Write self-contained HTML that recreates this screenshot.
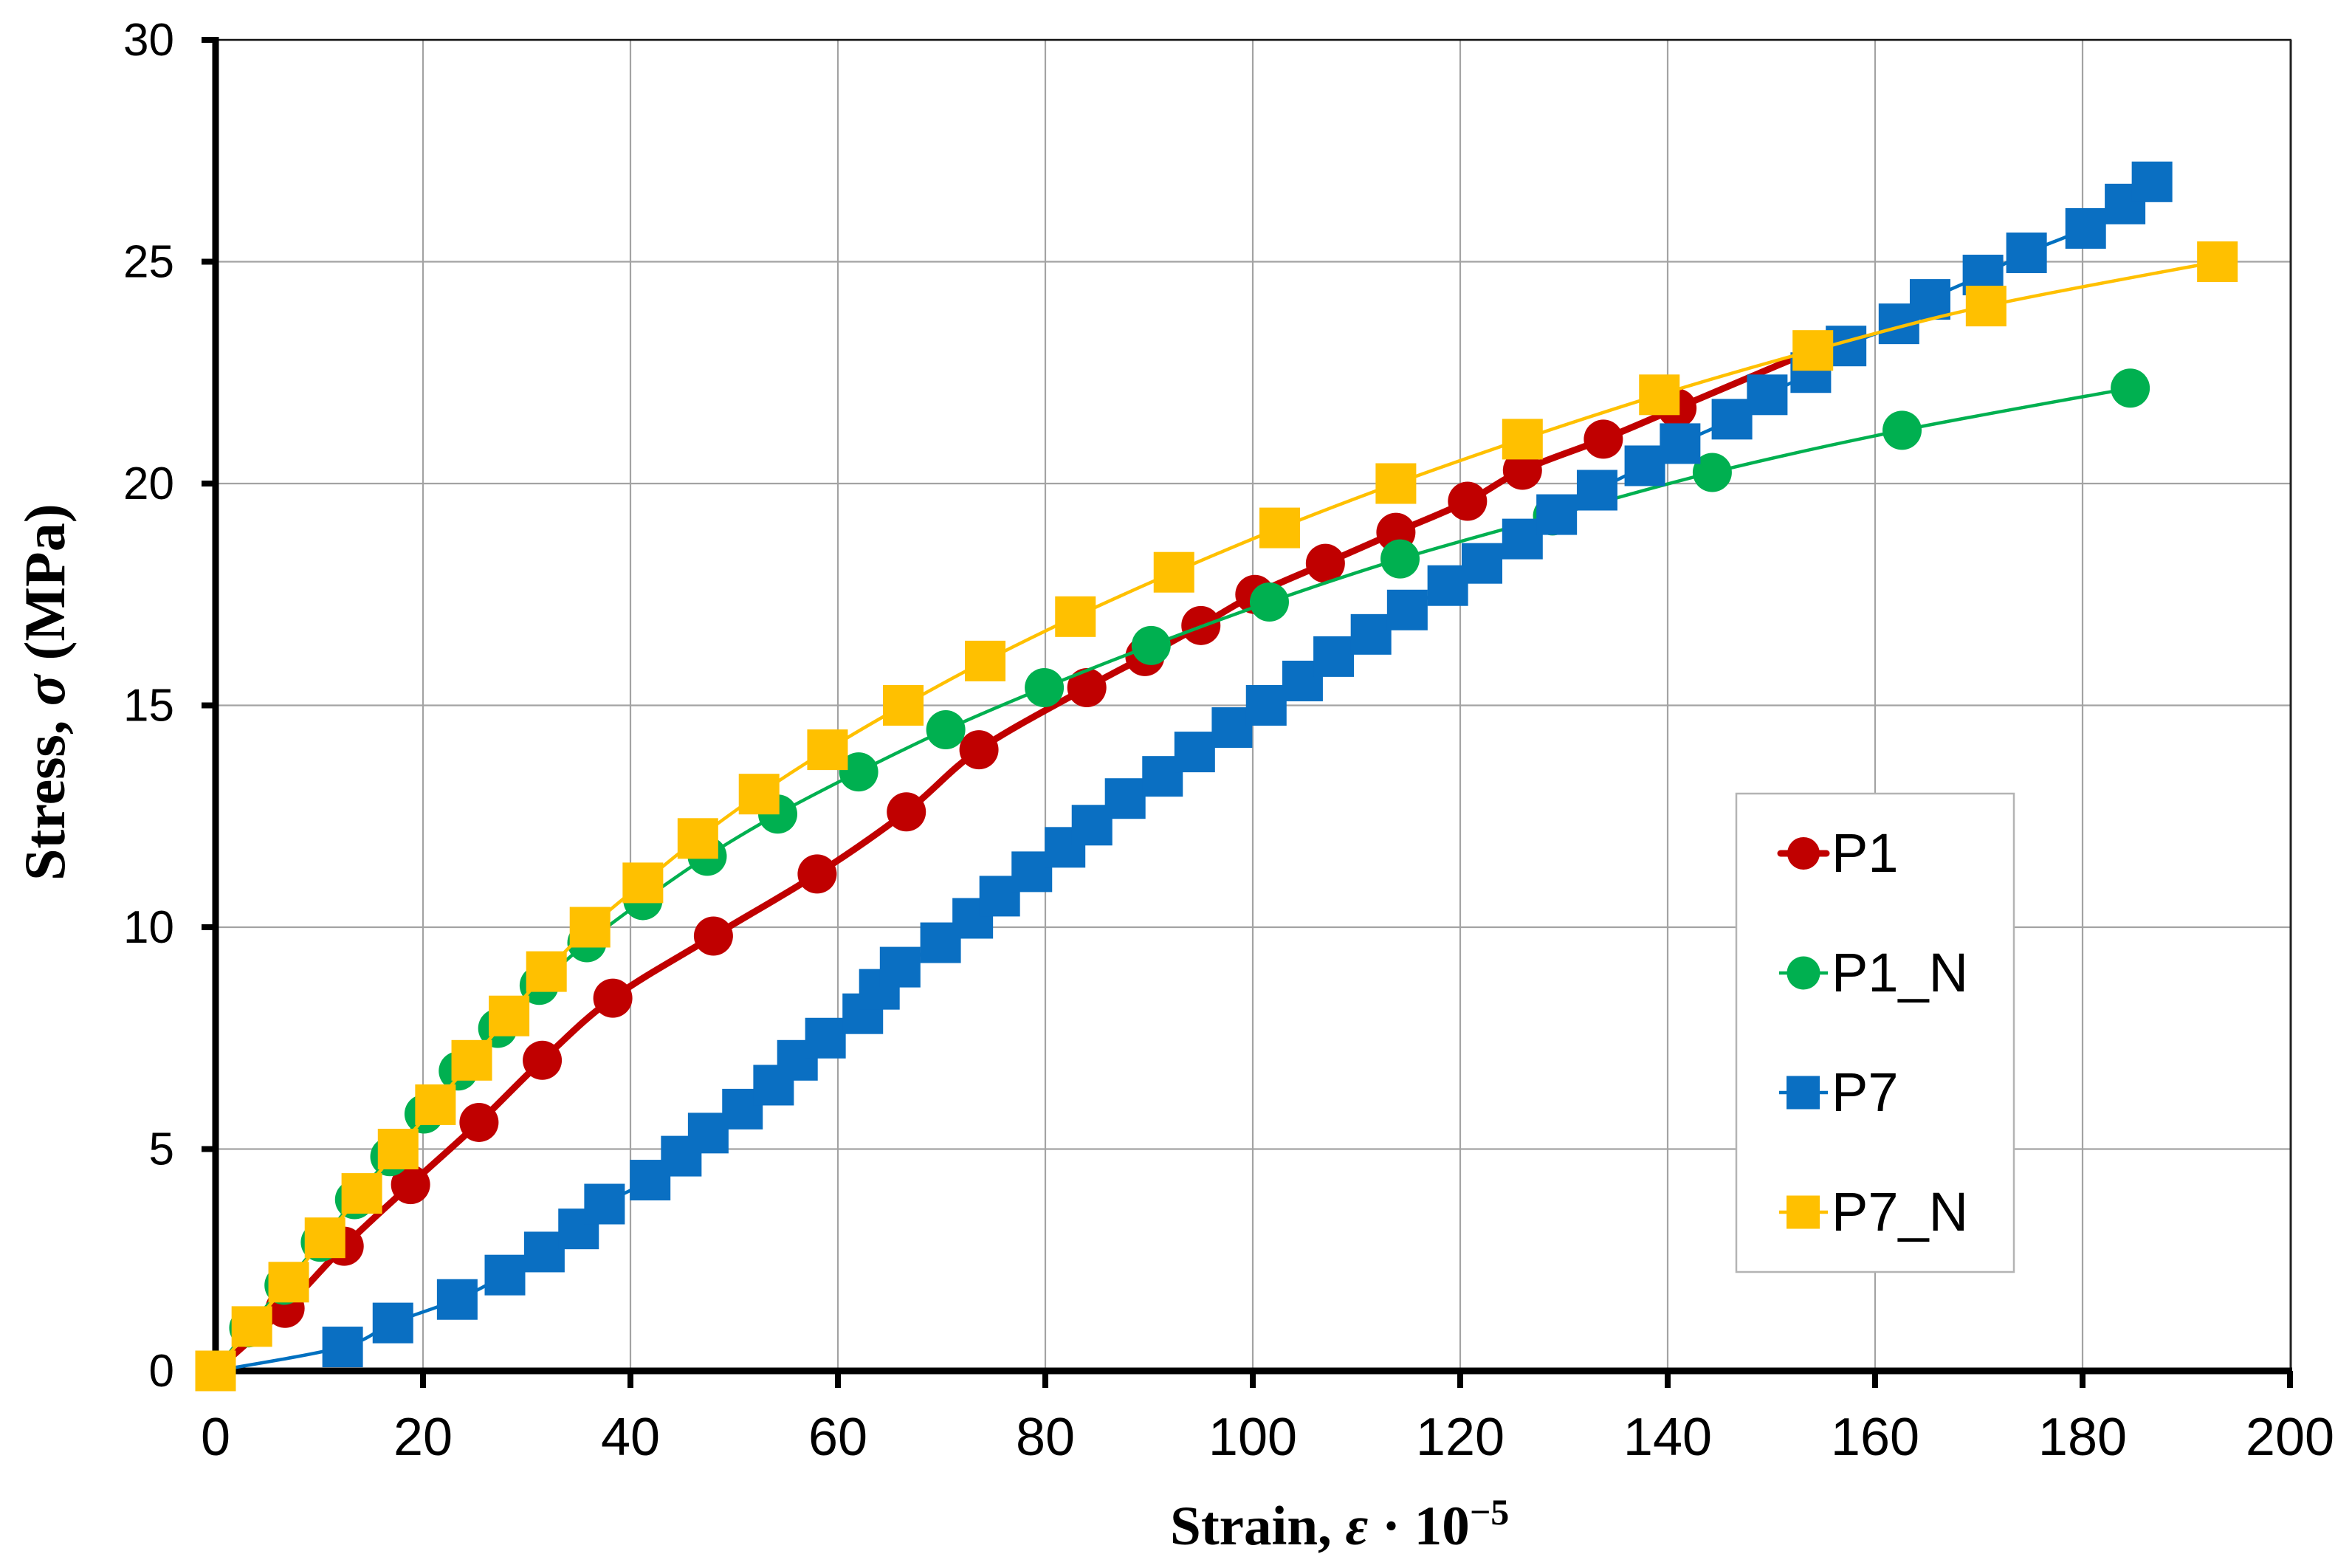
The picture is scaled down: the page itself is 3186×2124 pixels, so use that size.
<!DOCTYPE html>
<html lang="en">
<head>
<meta charset="utf-8">
<title>Stress-strain chart</title>
<style>
html,body{margin:0;padding:0;background:#fff;}
body{width:3186px;height:2124px;overflow:hidden;}
svg{display:block;}
text{fill:#000;}
.sans{font-family:"Liberation Sans",sans-serif;}
.serif{font-family:"Liberation Serif",serif;font-weight:bold;}
</style>
</head>
<body>
<svg id="chart" xmlns="http://www.w3.org/2000/svg" width="3186" height="2124" viewBox="0 0 3186 2124">
  <rect x="0" y="0" width="3186" height="2124" fill="#ffffff"/>
  <g id="grid"></g>
  <g id="frame"></g>
  <g id="legend">
    <rect x="2352" y="1075" width="376" height="648" fill="#ffffff" stroke="#b4b4b4" stroke-width="2.5"/>
    <g>
      <line x1="2412" y1="1156" x2="2474" y2="1156" stroke="#C00000" stroke-width="9" stroke-linecap="round"/>
      <circle cx="2443" cy="1156" r="22" fill="#C00000"/>
      <text class="sans" x="2481" y="1181" font-size="74">P1</text>
    </g>
    <g>
      <line x1="2410" y1="1318" x2="2476" y2="1318" stroke="#00B050" stroke-width="4.5"/>
      <circle cx="2443" cy="1318" r="22.5" fill="#00B050"/>
      <text class="sans" x="2481" y="1343" font-size="74">P1_N</text>
    </g>
    <g>
      <line x1="2410" y1="1480" x2="2476" y2="1480" stroke="#0070C0" stroke-width="4.5"/>
      <rect x="2420" y="1457.5" width="45" height="45" fill="#0A6FC2"/>
      <text class="sans" x="2481" y="1505" font-size="74">P7</text>
    </g>
    <g>
      <line x1="2410" y1="1642" x2="2476" y2="1642" stroke="#FFC000" stroke-width="4.5"/>
      <rect x="2420" y="1619.5" width="45" height="45" fill="#FFC000"/>
      <text class="sans" x="2481" y="1667" font-size="74">P7_N</text>
    </g>
  </g>
  <g id="series"></g>
  <g id="ticks"></g>
  <text class="serif" x="1585" y="2092" font-size="75">Strain, <tspan font-style="italic">ε</tspan> · 10<tspan font-size="50" dy="-27">−5</tspan></text>
  <text class="serif" transform="translate(87,1193) rotate(-90)" x="0" y="0" font-size="78">Stress, <tspan font-style="italic">σ</tspan> (MPa)</text>
</svg>
<script>
var xTicks = [0, 20, 40, 60, 80, 100, 120, 140, 160, 180, 200];
var yTicks = [0, 5, 10, 15, 20, 25, 30];

var p1X = [0, 6.7, 12.4, 18.8, 25.4, 31.5, 38.3, 48, 58, 66.6, 73.6, 84, 89.6, 95, 100.2, 107, 113.8, 120.7, 126, 133.8, 140.9, 154];
var p1Y = [0, 1.41, 2.81, 4.2, 5.6, 7.0, 8.4, 9.8, 11.2, 12.6, 14.0, 15.4, 16.1, 16.8, 17.5, 18.2, 18.9, 19.6, 20.3, 21.0, 21.7, 23.0];

var p1nX = [0, 3.2, 6.6, 10.1, 13.4, 16.8, 20.1, 23.4, 27.2, 31.2, 35.8, 41.2, 47.4, 54.2, 62, 70.4, 79.9, 90.2, 101.6, 114.2, 128.9, 144.3, 162.6, 184.6];
var p1nY = [0, 0.97, 1.93, 2.9, 3.86, 4.83, 5.79, 6.76, 7.72, 8.69, 9.65, 10.6, 11.6, 12.55, 13.5, 14.45, 15.4, 16.35, 17.33, 18.3, 19.27, 20.25, 21.2, 22.15];

var p7X = [0, 12.25, 17.1, 23.3, 27.9, 31.7, 35, 37.5, 41.9, 44.9, 47.5, 50.8, 53.8, 56.1, 58.8, 62.4, 64, 66, 69.9, 73, 75.6, 78.7, 81.9, 84.5, 87.7, 91.3, 94.4, 98, 101.3, 104.8, 107.8, 111.4, 114.9, 118.8, 122.1, 126, 129.3, 133.2, 137.8, 141.2, 146.2, 149.6, 153.8, 157.2, 162.3, 165.3, 170.4, 174.6, 180.3, 184.1, 186.7];
var p7Y = [0, 0.54, 1.08, 1.61, 2.16, 2.68, 3.2, 3.76, 4.3, 4.84, 5.36, 5.9, 6.44, 7.0, 7.5, 8.05, 8.6, 9.1, 9.65, 10.2, 10.7, 11.25, 11.8, 12.3, 12.9, 13.4, 13.95, 14.5, 15, 15.55, 16.1, 16.6, 17.15, 17.7, 18.2, 18.75, 19.3, 19.85, 20.4, 20.9, 21.45, 22, 22.5, 23.1, 23.6, 24.15, 24.7, 25.2, 25.75, 26.3, 26.8];

var p7nX = [0, 3.5, 7.05, 10.55, 14.1, 17.6, 21.2, 24.7, 28.3, 31.9, 36.1, 41.2, 46.5, 52.4, 59, 66.3, 74.2, 82.9, 92.4, 102.6, 113.8, 126, 139.2, 154, 170.7, 193];
var p7nY = [0, 1, 2, 3, 4, 5, 6, 7, 8, 9, 10, 11, 12, 13, 14, 15, 16, 17, 18, 19, 20, 21, 22, 23, 24, 25];

var SVGNS = 'http://www.w3.org/2000/svg';
var plotLeft = 292, plotBottom = 1857, plotTop = 54, plotRight = 3102;
var xMax = 200, yMax = 30;

function sx(v) { return plotLeft + v / xMax * (plotRight - plotLeft); }
function sy(v) { return plotBottom - v / yMax * (plotBottom - plotTop); }

function make(tag, parent) {
  var el = document.createElementNS(SVGNS, tag);
  parent.appendChild(el);
  return el;
}

function smoothPath(xs, ys) {
  var px = xs.map(sx), py = ys.map(sy);
  var d = 'M' + px[0] + ' ' + py[0];
  for (var i = 0; i < px.length - 1; i++) {
    var a = Math.max(i - 1, 0), b = Math.min(i + 2, px.length - 1);
    var c1x = px[i] + (px[i + 1] - px[a]) / 6, c1y = py[i] + (py[i + 1] - py[a]) / 6;
    var c2x = px[i + 1] - (px[b] - px[i]) / 6, c2y = py[i + 1] - (py[b] - py[i]) / 6;
    d += ' C' + c1x + ' ' + c1y + ' ' + c2x + ' ' + c2y + ' ' + px[i + 1] + ' ' + py[i + 1];
  }
  return d;
}

var grid = document.getElementById('grid');
var frame = document.getElementById('frame');
var ticks = document.getElementById('ticks');
var series = document.getElementById('series');

xTicks.forEach(function (t) {
  if (t === 0 || t === xMax) return;
  var g = make('line', grid);
  
  
  g.setAttribute('x1', sx(t));
  g.setAttribute('x2', sx(t));
  g.setAttribute('y1', plotTop);
  g.setAttribute('y2', plotBottom);
  g.setAttribute('stroke', '#a3a3a3');
  g.setAttribute('stroke-width', '2.2');
});
yTicks.forEach(function (t) {
  if (t === 0 || t === yMax) return;
  var g = make('line', grid);
  
  
  g.setAttribute('x1', plotLeft);
  g.setAttribute('x2', plotRight);
  g.setAttribute('y1', sy(t));
  g.setAttribute('y2', sy(t));
  g.setAttribute('stroke', '#a3a3a3');
  g.setAttribute('stroke-width', '2.2');
});

var topLine = make('line', frame);


topLine.setAttribute('x1', plotLeft);
topLine.setAttribute('x2', plotRight + 2);
topLine.setAttribute('y1', plotTop);
topLine.setAttribute('y2', plotTop);
topLine.setAttribute('stroke', '#111');
topLine.setAttribute('stroke-width', '2.5');

var rightLine = make('line', frame);


rightLine.setAttribute('x1', plotRight + 1);
rightLine.setAttribute('x2', plotRight + 1);
rightLine.setAttribute('y1', plotTop);
rightLine.setAttribute('y2', plotBottom);
rightLine.setAttribute('stroke', '#222');
rightLine.setAttribute('stroke-width', '3');

var yAxis = make('line', frame);


yAxis.setAttribute('x1', plotLeft);
yAxis.setAttribute('x2', plotLeft);
yAxis.setAttribute('y1', plotTop - 4);
yAxis.setAttribute('y2', plotBottom + 4);
yAxis.setAttribute('stroke', '#000');
yAxis.setAttribute('stroke-width', '9');

var xAxis = make('line', frame);


xAxis.setAttribute('x1', plotLeft);
xAxis.setAttribute('x2', plotRight + 3);
xAxis.setAttribute('y1', plotBottom);
xAxis.setAttribute('y2', plotBottom);
xAxis.setAttribute('stroke', '#000');
xAxis.setAttribute('stroke-width', '9');

xTicks.forEach(function (t) {
  var m = make('line', frame);
  
  
  m.setAttribute('x1', sx(t));
  m.setAttribute('x2', sx(t));
  m.setAttribute('y1', plotBottom);
  m.setAttribute('y2', plotBottom + 23);
  m.setAttribute('stroke', '#000');
  m.setAttribute('stroke-width', '8');
  var l = make('text', ticks);
  
  
  l.setAttribute('class', 'sans');
  l.setAttribute('x', sx(t));
  l.setAttribute('y', 1971);
  l.setAttribute('font-size', '72');
  l.setAttribute('text-anchor', 'middle');
  l.textContent = String(t);
});
yTicks.forEach(function (t) {
  var m = make('line', frame);
  
  
  m.setAttribute('x1', plotLeft - 19);
  m.setAttribute('x2', plotLeft);
  m.setAttribute('y1', sy(t));
  m.setAttribute('y2', sy(t));
  m.setAttribute('stroke', '#000');
  m.setAttribute('stroke-width', '8');
  var l = make('text', ticks);
  
  
  l.setAttribute('class', 'sans');
  l.setAttribute('x', 236);
  l.setAttribute('y', sy(t) + 21);
  l.setAttribute('font-size', '62');
  l.setAttribute('text-anchor', 'end');
  l.textContent = String(t);
});

function drawSeries(name, xs, ys, color, fill, width, shape) {
  var g = make('g', series);
  
  
  var path = make('path', g);
  
  
  path.setAttribute('d', smoothPath(xs, ys));
  path.setAttribute('fill', 'none');
  path.setAttribute('stroke', color);
  path.setAttribute('stroke-width', width);
  xs.forEach(function (xv, i) {
    var mark;
    if (shape === 'circle') {
      mark = make('circle', g);
      mark.setAttribute('cx', sx(xv));
      mark.setAttribute('cy', sy(ys[i]));
      mark.setAttribute('r', 26.5);
    } else {
      mark = make('rect', g);
      mark.setAttribute('x', sx(xv) - 27.5);
      mark.setAttribute('y', sy(ys[i]) - 27.5);
      mark.setAttribute('width', 55);
      mark.setAttribute('height', 55);
    }
    
    
    mark.setAttribute('fill', fill);
  });
}

drawSeries('p1', p1X, p1Y, '#C00000', '#C00000', 9, 'circle');
drawSeries('p1-n', p1nX, p1nY, '#00B050', '#00B050', 4.5, 'circle');
drawSeries('p7', p7X, p7Y, '#0070C0', '#0A6FC2', 4.5, 'square');
drawSeries('p7-n', p7nX, p7nY, '#FFC000', '#FFC000', 4.5, 'square');
</script>
</body>
</html>
